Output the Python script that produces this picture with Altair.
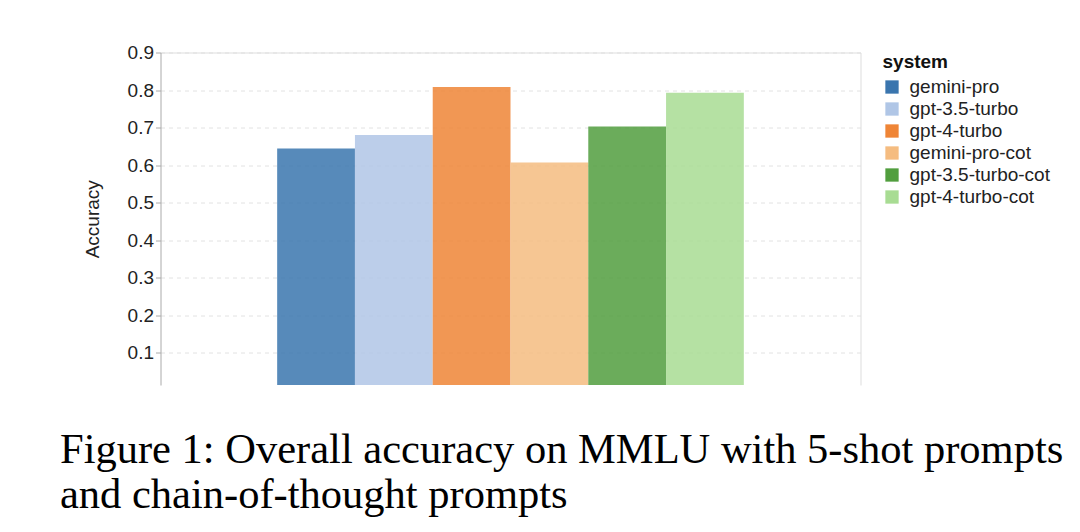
import altair as alt
import pandas as pd

systems = ["gemini-pro", "gpt-3.5-turbo", "gpt-4-turbo", "gemini-pro-cot", "gpt-3.5-turbo-cot", "gpt-4-turbo-cot"]
accuracy = [0.644, 0.680, 0.808, 0.607, 0.703, 0.793]
colors = ["#3a75ae", "#b0c6e6", "#ef8536", "#f5bc80", "#519e3e", "#a8dc93"]
y_ticks = [0.1, 0.2, 0.3, 0.4, 0.5, 0.6, 0.7, 0.8, 0.9]
caption_lines = ["Figure 1: Overall accuracy on MMLU with 5-shot prompts",
                 "and chain-of-thought prompts"]

df = pd.DataFrame({"system": systems, "accuracy": accuracy})

x_enc = alt.X(
    "group:N",
    scale=alt.Scale(paddingInner=0, paddingOuter=0.25),
    axis=alt.Axis(orient="top", labels=False, ticks=False, title=None, grid=False,
                  domainColor="#dddddd", domainWidth=1),
)
xo_enc = alt.XOffset("system:N", sort=systems,
                     scale=alt.Scale(paddingInner=0, paddingOuter=0))
yscale = alt.Scale(domain=[0.014, 0.9], nice=False, zero=False)

base = alt.Chart(df).transform_calculate(group="'all'")

bars = base.mark_bar(clip=True, fillOpacity=0.85).encode(
    x=x_enc,
    xOffset=xo_enc,
    y=alt.Y("accuracy:Q", scale=yscale,
            axis=alt.Axis(title="Accuracy", values=y_ticks, format=".1f",
                          gridDash=[4, 4], gridColor="#e2e2e2",
                          domainColor="#aaaaaa", tickColor="#aaaaaa",
                          labelFontSize=19, titleFontSize=19, titleFontWeight="normal",
                          labelColor="#222222", titleColor="#222222", titlePadding=25)),
    color=alt.Color("system:N", sort=systems,
                    scale=alt.Scale(domain=systems, range=colors),
                    legend=alt.Legend(title="system", symbolType="square", symbolSize=177,
                                      symbolStrokeWidth=0, symbolOpacity=1, offset=22,
                                      labelOffset=8, rowPadding=2, titleFontSize=19,
                                      labelFontSize=19, titleColor="#111111",
                                      labelColor="#222222", titlePadding=6)),
)

border = base.mark_bar(opacity=0).encode(
    x=x_enc,
    xOffset=xo_enc,
    y=alt.Y("accuracy:Q", scale=yscale,
            axis=alt.Axis(orient="right", labels=False, ticks=False, grid=False,
                          title=None, domainColor="#dddddd")),
)

chart = alt.layer(bars, border).resolve_axis(y="independent").properties(
    width=700,
    height=332.5,
    autosize=alt.AutoSizeParams(type="none"),
    padding={"left": 152.5, "top": 44.5, "right": 211.5, "bottom": 139},
    title=alt.TitleParams(text=caption_lines, orient="bottom", anchor="start", frame="group",
                          font="Liberation Serif", fontSize=42.5, fontWeight="normal",
                          color="#000000", lineHeight=45, offset=39, dx=-100.5),
).configure_view(stroke=None).configure_axis(
    labelFont="Liberation Sans", titleFont="Liberation Sans"
).configure_legend(
    labelFont="Liberation Sans", titleFont="Liberation Sans"
)

chart.save("out.html", embed_options={"renderer": "svg", "actions": False})
